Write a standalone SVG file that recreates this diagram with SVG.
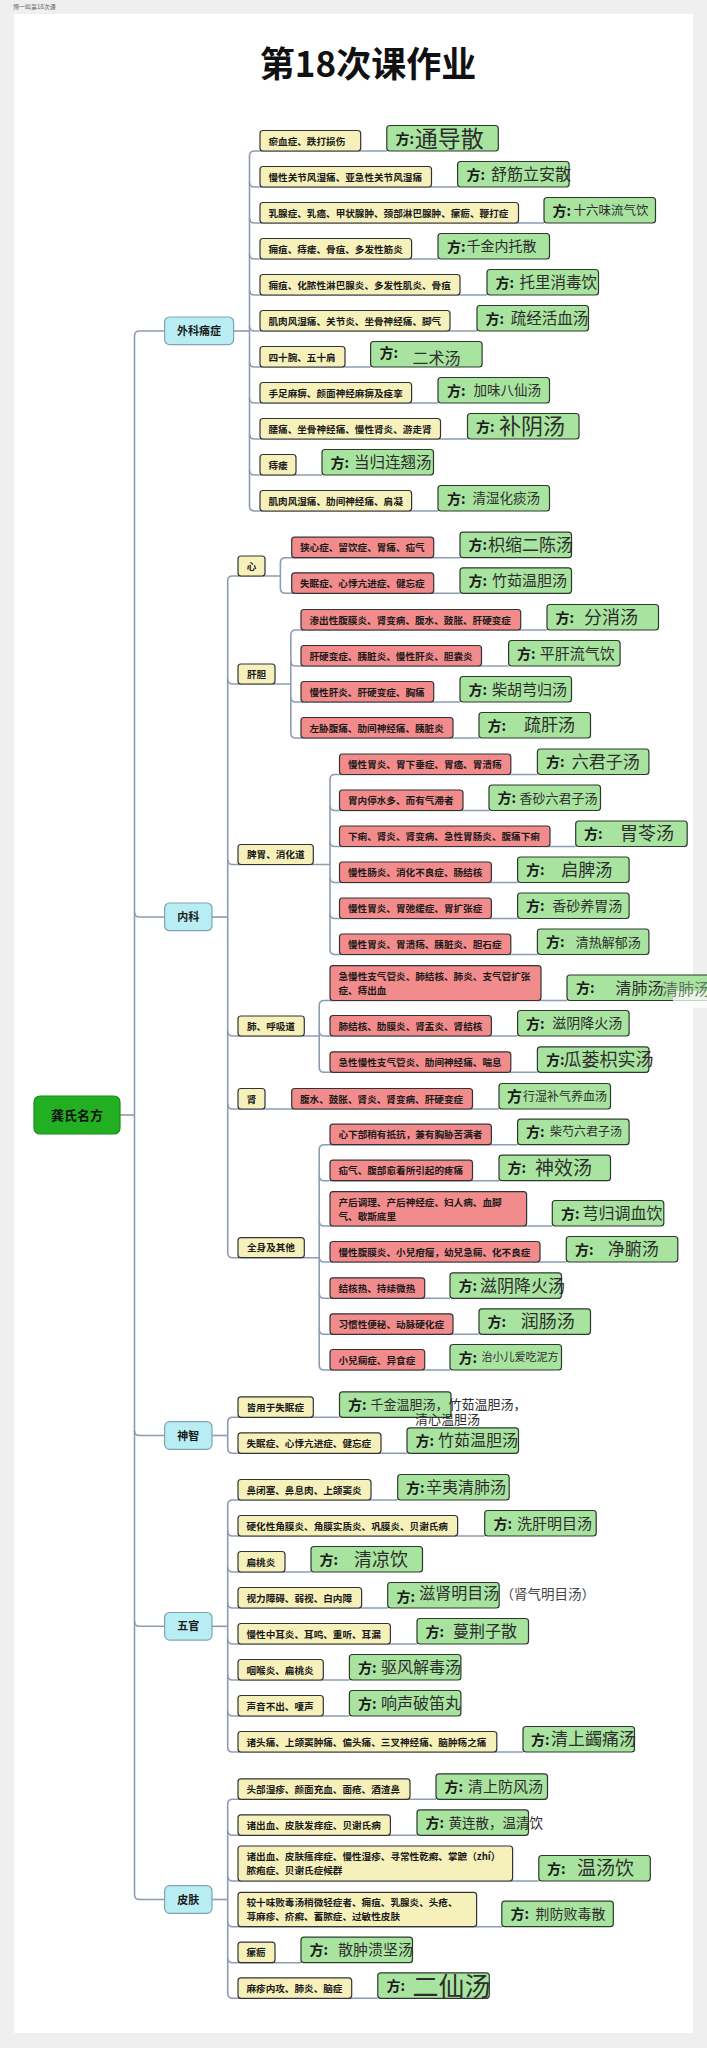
<svg xmlns="http://www.w3.org/2000/svg" width="707" height="2048" viewBox="0 0 707 2048">
<style>
text{font-family:"Noto Sans CJK SC","Noto Sans",sans-serif;}
.c path{fill:none;stroke:#8d9cb3;stroke-width:1.6;}
.y{fill:#f6f1bb;stroke:#333;stroke-width:1.2;}
.r{fill:#f28c8c;stroke:#333;stroke-width:1.2;}
.g{fill:#a8e4a0;stroke:#2c3a2c;stroke-width:1.2;}
.l1{fill:#b8eef3;stroke:#7fa3b5;stroke-width:1.2;}
.root{fill:#22b022;stroke:#1a8a1a;stroke-width:1.2;}
.t{font-size:9.6px;font-weight:bold;fill:#1a1a1a;}
.tm{font-size:9.6px;font-weight:bold;fill:#1a1a1a;text-anchor:middle;}
.f{font-size:14px;font-weight:bold;fill:#1a1a1a;}
.n{fill:#2e2e2e;}
.lt{font-size:11px;font-weight:bold;fill:#1a1a1a;text-anchor:middle;}
.o{fill:#444;}
</style>
<rect x="0" y="0" width="707" height="2048" fill="#efefef"/>
<rect x="14" y="14" width="679" height="2019" fill="#ffffff"/>
<text x="13" y="9" style="font-size:6px;fill:#666">博一鸣第18次课</text>
<text x="368" y="77" style="font-size:35px;font-weight:bold;fill:#111;text-anchor:middle">第18次课作业</text>

<g id="connectors" class="c">
<path d="M120,1115 H134.5"/>
<path d="M164.6,331 H139.5 Q134.5,331 134.5,336 V1894.5 Q134.5,1899.5 139.5,1899.5 H164.6"/>
<path d="M134.5,912 Q134.5,917 139.5,917 H164.6"/>
<path d="M134.5,1430.5 Q134.5,1435.5 139.5,1435.5 H164.6"/>
<path d="M134.5,1621.3 Q134.5,1626.3 139.5,1626.3 H164.6"/>
<path d="M233.5,331 H249.5"/>
<path d="M386.8,151 H254.5 Q249.5,151 249.5,156 V506 Q249.5,511 254.5,511 H438"/>
<path d="M249.5,182 Q249.5,187 254.5,187 H457.6"/>
<path d="M249.5,218 Q249.5,223 254.5,223 H544"/>
<path d="M249.5,254 Q249.5,259 254.5,259 H438"/>
<path d="M249.5,290 Q249.5,295 254.5,295 H487"/>
<path d="M249.5,326 Q249.5,331 254.5,331 H477"/>
<path d="M249.5,362 Q249.5,367 254.5,367 H370.6"/>
<path d="M249.5,398 Q249.5,403 254.5,403 H438"/>
<path d="M249.5,434 Q249.5,439 254.5,439 H467.5"/>
<path d="M249.5,470 Q249.5,475 254.5,475 H322"/>
<path d="M212,917 H227.7"/>
<path d="M280.4,576 H232.7 Q227.7,576 227.7,581 V1252.7 Q227.7,1257.7 232.7,1257.7 H319.2"/>
<path d="M227.7,679 Q227.7,684 232.7,684 H290.8"/>
<path d="M227.7,859.5 Q227.7,864.5 232.7,864.5 H330"/>
<path d="M227.7,1031 Q227.7,1036 232.7,1036 H319.2"/>
<path d="M227.7,1104 Q227.7,1109 232.7,1109 H499"/>
<path d="M460,557.7 H285.4 Q280.4,557.7 280.4,562.7 V588.3 Q280.4,593.3 285.4,593.3 H460"/>
<path d="M547,630 H295.8 Q290.8,630 290.8,635 V733 Q290.8,738 295.8,738 H479"/>
<path d="M290.8,661 Q290.8,666 295.8,666 H508.6"/>
<path d="M290.8,697 Q290.8,702 295.8,702 H460"/>
<path d="M537.4,774.5 H335 Q330,774.5 330,779.5 V949.5 Q330,954.5 335,954.5 H537.4"/>
<path d="M330,805.5 Q330,810.5 335,810.5 H489"/>
<path d="M330,841.5 Q330,846.5 335,846.5 H575.7"/>
<path d="M330,877.5 Q330,882.5 335,882.5 H517.6"/>
<path d="M330,913.5 Q330,918.5 335,918.5 H517.6"/>
<path d="M567,1000.5 H324.2 Q319.2,1000.5 319.2,1005.5 V1067.3 Q319.2,1072.3 324.2,1072.3 H537.4"/>
<path d="M319.2,1031 Q319.2,1036 324.2,1036 H517.6"/>
<path d="M517.6,1144.7 H324.2 Q319.2,1144.7 319.2,1149.7 V1365 Q319.2,1370 324.2,1370 H450"/>
<path d="M319.2,1175.7 Q319.2,1180.7 324.2,1180.7 H499"/>
<path d="M319.2,1221 Q319.2,1226 324.2,1226 H552.3"/>
<path d="M319.2,1257 Q319.2,1262 324.2,1262 H566.3"/>
<path d="M319.2,1293.3 Q319.2,1298.3 324.2,1298.3 H450"/>
<path d="M319.2,1329.3 Q319.2,1334.3 324.2,1334.3 H479"/>
<path d="M212,1435.5 H227.7"/>
<path d="M339.5,1417.3 H232.7 Q227.7,1417.3 227.7,1422.3 V1448.3 Q227.7,1453.3 232.7,1453.3 H407"/>
<path d="M212,1626.3 H227.7"/>
<path d="M397.7,1500 H232.7 Q227.7,1500 227.7,1505 V1747 Q227.7,1752 232.7,1752 H523"/>
<path d="M227.7,1531 Q227.7,1536 232.7,1536 H484.7"/>
<path d="M227.7,1567 Q227.7,1572 232.7,1572 H311"/>
<path d="M227.7,1603 Q227.7,1608 232.7,1608 H387.7"/>
<path d="M227.7,1639 Q227.7,1644 232.7,1644 H417"/>
<path d="M227.7,1675 Q227.7,1680 232.7,1680 H349.4"/>
<path d="M227.7,1711 Q227.7,1716 232.7,1716 H349.4"/>
<path d="M212,1899.5 H227.7"/>
<path d="M436,1799.3 H232.7 Q227.7,1799.3 227.7,1804.3 V1993.3 Q227.7,1998.3 232.7,1998.3 H377.8"/>
<path d="M227.7,1830.3 Q227.7,1835.3 232.7,1835.3 H417"/>
<path d="M227.7,1876 Q227.7,1881 232.7,1881 H538.8"/>
<path d="M227.7,1921.7 Q227.7,1926.7 232.7,1926.7 H501.8"/>
<path d="M227.7,1957.7 Q227.7,1962.7 232.7,1962.7 H301"/>
</g>

<g id="root"><rect class="root" x="34" y="1096" width="86" height="38" rx="6"/><text x="77" y="1119.5" style="font-size:13px;font-weight:bold;fill:#111;text-anchor:middle">龚氏名方</text></g>

<g id="l1-waike"><rect class="l1" x="164.6" y="317" width="69" height="27.6" rx="5"/><text class="lt" x="199" y="334.8">外科痛症</text></g>
<g id="l1-neike"><rect class="l1" x="164.6" y="903" width="47.4" height="27.7" rx="5"/><text class="lt" x="188.3" y="921">内科</text></g>
<g id="l1-shenzhi"><rect class="l1" x="164.6" y="1421.7" width="47.4" height="27.6" rx="5"/><text class="lt" x="188.3" y="1439.5">神智</text></g>
<g id="l1-wuguan"><rect class="l1" x="164.6" y="1612.5" width="47.4" height="27.6" rx="5"/><text class="lt" x="188.3" y="1630.3">五官</text></g>
<g id="l1-pifu"><rect class="l1" x="164.6" y="1885.7" width="47.4" height="27.6" rx="5"/><text class="lt" x="188.3" y="1903.5">皮肤</text></g>

<g id="wk1"><rect class="y" x="260" y="130.5" width="100.7" height="20.5" rx="3"/><text class="t" x="268.5" y="144.5">瘀血症、跌打损伤</text></g>
<g id="wk1f"><rect class="g" x="386.8" y="125.5" width="111.5" height="25.5" rx="3"/><text class="f" x="395.5" y="143.5">方:</text><text class="n" x="414.8" y="146.5" style="font-size:23px">通导散</text></g>
<g id="wk2"><rect class="y" x="260" y="166.5" width="171.5" height="20.5" rx="3"/><text class="t" x="268.5" y="180.5">慢性关节风湿痛、亚急性关节风湿痛</text></g>
<g id="wk2f"><rect class="g" x="457.6" y="161.5" width="111.5" height="25.5" rx="3"/><text class="f" x="466.5" y="179.5">方:</text><text class="n" x="491" y="180" style="font-size:16px">舒筋立安散</text></g>
<g id="wk3"><rect class="y" x="260" y="202.5" width="258.5" height="20.5" rx="3"/><text class="t" x="268.5" y="216.5">乳腺症、乳癌、甲状腺肿、颈部淋巴腺肿、瘰疬、鞭打症</text></g>
<g id="wk3f"><rect class="g" x="544" y="197.5" width="111.5" height="25.5" rx="3"/><text class="f" x="552.5" y="215.5">方:</text><text class="n" x="573.5" y="214.8" style="font-size:12.5px">十六味流气饮</text></g>
<g id="wk4"><rect class="y" x="260" y="238.5" width="151.6" height="20.5" rx="3"/><text class="t" x="268.5" y="252.5">痈疽、痔瘘、骨疽、多发性筋炎</text></g>
<g id="wk4f"><rect class="g" x="438" y="233.5" width="111.5" height="25.5" rx="3"/><text class="f" x="447" y="251.5">方:</text><text class="n" x="466.6" y="251.3" style="font-size:14px">千金内托散</text></g>
<g id="wk5"><rect class="y" x="260" y="274.5" width="200" height="20.5" rx="3"/><text class="t" x="268.5" y="288.5">痈疽、化脓性淋巴腺炎、多发性肌炎、骨疽</text></g>
<g id="wk5f"><rect class="g" x="487" y="269.5" width="111.5" height="25.5" rx="3"/><text class="f" x="495.5" y="287.5">方:</text><text class="n" x="519.4" y="287.9" style="font-size:15.5px">托里消毒饮</text></g>
<g id="wk6"><rect class="y" x="260" y="310.5" width="190" height="20.5" rx="3"/><text class="t" x="268.5" y="324.5">肌肉风湿痛、关节炎、坐骨神经痛、脚气</text></g>
<g id="wk6f"><rect class="g" x="477" y="305.5" width="111.5" height="25.5" rx="3"/><text class="f" x="485.5" y="323.5">方:</text><text class="n" x="510.8" y="323.9" style="font-size:15.5px">疏经活血汤</text></g>
<g id="wk7"><rect class="y" x="260" y="346.5" width="85" height="20.5" rx="3"/><text class="t" x="268.5" y="360.5">四十腕、五十肩</text></g>
<g id="wk7f"><rect class="g" x="370.6" y="341.5" width="111.5" height="25.5" rx="3"/><text class="f" x="379.5" y="357.5">方:</text><text class="n" x="412.5" y="364" style="font-size:16px">二术汤</text></g>
<g id="wk8"><rect class="y" x="260" y="382.5" width="151.6" height="20.5" rx="3"/><text class="t" x="268.5" y="396.5">手足麻痹、颜面神经麻痹及痉挛</text></g>
<g id="wk8f"><rect class="g" x="438" y="377.5" width="111.5" height="25.5" rx="3"/><text class="f" x="447" y="395.5">方:</text><text class="n" x="473.4" y="395.1" style="font-size:13.5px">加味八仙汤</text></g>
<g id="wk9"><rect class="y" x="260" y="418.5" width="180.5" height="20.5" rx="3"/><text class="t" x="268.5" y="432.5">腰痛、坐骨神经痛、慢性肾炎、游走肾</text></g>
<g id="wk9f"><rect class="g" x="467.5" y="413.5" width="111.5" height="25.5" rx="3"/><text class="f" x="476" y="431.5">方:</text><text class="n" x="499" y="434.2" style="font-size:22px">补阴汤</text></g>
<g id="wk10"><rect class="y" x="260" y="454.5" width="36" height="20.5" rx="3"/><text class="t" x="268.5" y="468.5">痔瘘</text></g>
<g id="wk10f"><rect class="g" x="322" y="449.5" width="111.5" height="25.5" rx="3"/><text class="f" x="330.5" y="467.5">方:</text><text class="n" x="354" y="467.9" style="font-size:15.5px">当归连翘汤</text></g>
<g id="wk11"><rect class="y" x="260" y="490.5" width="151.6" height="20.5" rx="3"/><text class="t" x="268.5" y="504.5">肌肉风湿痛、肋间神经痛、肩凝</text></g>
<g id="wk11f"><rect class="g" x="438" y="485.5" width="111.5" height="25.5" rx="3"/><text class="f" x="447" y="503.5">方:</text><text class="n" x="472.5" y="503.1" style="font-size:13.5px">清湿化痰汤</text></g>

<g id="nk-xin"><rect class="y" x="238" y="556" width="27" height="20" rx="3"/><text class="tm" x="251.5" y="569.5">心</text></g>
<g id="xin1"><rect class="r" x="291.7" y="537.2" width="142" height="20.5" rx="3"/><text class="t" x="300" y="551.2">狭心症、留饮症、胃痛、疝气</text></g>
<g id="xin1f"><rect class="g" x="460" y="532.2" width="111.5" height="25.5" rx="3"/><text class="f" x="468.5" y="550.2">方:</text><text class="n" x="488" y="551" style="font-size:17px">枳缩二陈汤</text></g>
<g id="xin2"><rect class="r" x="291.7" y="572.8" width="142" height="20.5" rx="3"/><text class="t" x="300" y="586.8">失眠症、心悸亢进症、健忘症</text></g>
<g id="xin2f"><rect class="g" x="460" y="567.8" width="111.5" height="25.5" rx="3"/><text class="f" x="468.5" y="585.8">方:</text><text class="n" x="492" y="586" style="font-size:15px">竹茹温胆汤</text></g>

<g id="nk-gandan"><rect class="y" x="238" y="664" width="37" height="20" rx="3"/><text class="tm" x="256.5" y="677.5">肝胆</text></g>
<g id="gd1"><rect class="r" x="301" y="609.5" width="219.7" height="20.5" rx="3"/><text class="t" x="309.5" y="623.5">渗出性腹膜炎、肾变病、腹水、鼓胀、肝硬变症</text></g>
<g id="gd1f"><rect class="g" x="547" y="604.5" width="111.5" height="25.5" rx="3"/><text class="f" x="555.5" y="622.5">方:</text><text class="n" x="583.9" y="623.8" style="font-size:18px">分消汤</text></g>
<g id="gd2"><rect class="r" x="301" y="645.5" width="180.5" height="20.5" rx="3"/><text class="t" x="309.5" y="659.5">肝硬变症、胰脏炎、慢性肝炎、胆囊炎</text></g>
<g id="gd2f"><rect class="g" x="508.6" y="640.5" width="111.5" height="25.5" rx="3"/><text class="f" x="517" y="658.5">方:</text><text class="n" x="539.7" y="658.7" style="font-size:15px">平肝流气饮</text></g>
<g id="gd3"><rect class="r" x="301" y="681.5" width="132.7" height="20.5" rx="3"/><text class="t" x="309.5" y="695.5">慢性肝炎、肝硬变症、胸痛</text></g>
<g id="gd3f"><rect class="g" x="460" y="676.5" width="111.5" height="25.5" rx="3"/><text class="f" x="468.5" y="694.5">方:</text><text class="n" x="492" y="694.7" style="font-size:15px">柴胡芎归汤</text></g>
<g id="gd4"><rect class="r" x="301" y="717.5" width="152" height="20.5" rx="3"/><text class="t" x="309.5" y="731.5">左胁腹痛、肋间神经痛、胰脏炎</text></g>
<g id="gd4f"><rect class="g" x="479" y="712.5" width="111.5" height="25.5" rx="3"/><text class="f" x="487.5" y="730.5">方:</text><text class="n" x="523.9" y="731.4" style="font-size:17px">疏肝汤</text></g>

<g id="nk-piwei"><rect class="y" x="238" y="844.5" width="75.3" height="20" rx="3"/><text class="t" x="247" y="858">脾胃、消化道</text></g>
<g id="pw1"><rect class="r" x="339.5" y="754" width="171.3" height="20.5" rx="3"/><text class="t" x="348" y="768">慢性胃炎、胃下垂症、胃癌、胃溃疡</text></g>
<g id="pw1f"><rect class="g" x="537.4" y="749" width="111.5" height="25.5" rx="3"/><text class="f" x="546" y="767">方:</text><text class="n" x="571.7" y="767.9" style="font-size:17px">六君子汤</text></g>
<g id="pw2"><rect class="r" x="339.5" y="790" width="123.5" height="20.5" rx="3"/><text class="t" x="348" y="804">胃内停水多、而有气滞者</text></g>
<g id="pw2f"><rect class="g" x="489" y="785" width="111.5" height="25.5" rx="3"/><text class="f" x="497.5" y="803">方:</text><text class="n" x="519.4" y="802.5" style="font-size:13px">香砂六君子汤</text></g>
<g id="pw3"><rect class="r" x="339.5" y="826" width="210.5" height="20.5" rx="3"/><text class="t" x="348" y="840">下痢、肾炎、肾变病、急性胃肠炎、腹痛下痢</text></g>
<g id="pw3f"><rect class="g" x="575.7" y="821" width="111.5" height="25.5" rx="3"/><text class="f" x="584" y="839">方:</text><text class="n" x="620" y="840.3" style="font-size:18px">胃苓汤</text></g>
<g id="pw4"><rect class="r" x="339.5" y="862" width="151.9" height="20.5" rx="3"/><text class="t" x="348" y="876">慢性肠炎、消化不良症、肠结核</text></g>
<g id="pw4f"><rect class="g" x="517.6" y="857" width="111.5" height="25.5" rx="3"/><text class="f" x="526" y="875">方:</text><text class="n" x="561.3" y="875.9" style="font-size:17px">启脾汤</text></g>
<g id="pw5"><rect class="r" x="339.5" y="898" width="151.9" height="20.5" rx="3"/><text class="t" x="348" y="912">慢性胃炎、胃弛缓症、胃扩张症</text></g>
<g id="pw5f"><rect class="g" x="517.6" y="893" width="111.5" height="25.5" rx="3"/><text class="f" x="526" y="911">方:</text><text class="n" x="552.3" y="910.8" style="font-size:14px">香砂养胃汤</text></g>
<g id="pw6"><rect class="r" x="339.5" y="934" width="171.3" height="20.5" rx="3"/><text class="t" x="348" y="948">慢性胃炎、胃溃疡、胰脏炎、胆石症</text></g>
<g id="pw6f"><rect class="g" x="537.4" y="929" width="111.5" height="25.5" rx="3"/><text class="f" x="546" y="947">方:</text><text class="n" x="575.7" y="946.5" style="font-size:13px">清热解郁汤</text></g>

<g id="nk-fei"><rect class="y" x="238" y="1016" width="66.3" height="20" rx="3"/><text class="t" x="247" y="1029.5">肺、呼吸道</text></g>
<g id="fei1"><rect class="r" x="330" y="965.7" width="211" height="34.8" rx="3"/><text class="t" x="338.5" y="979.5">急慢性支气管炎、肺结核、肺炎、支气管扩张</text><text class="t" x="338.5" y="993.5">症、痔出血</text></g>
<g id="fei1f"><rect class="g" x="567" y="975" width="150" height="25.5" rx="3"/><text class="f" x="576" y="993">方:</text><text class="n" x="615.4" y="993.5" style="font-size:16px">清肺汤</text><rect x="673" y="991" width="34" height="17" fill="#ffffff" opacity="0.75"/><text x="662" y="995" style="font-size:16px;fill:#555;opacity:0.8">清肺汤</text></g>
<g id="fei2"><rect class="r" x="330" y="1015.5" width="161.4" height="20.5" rx="3"/><text class="t" x="338.5" y="1029.5">肺结核、肋膜炎、肾盂炎、肾结核</text></g>
<g id="fei2f"><rect class="g" x="517.6" y="1010.5" width="111.5" height="25.5" rx="3"/><text class="f" x="526" y="1028.5">方:</text><text class="n" x="552.3" y="1028.3" style="font-size:14px">滋阴降火汤</text></g>
<g id="fei3"><rect class="r" x="330" y="1051.8" width="180.8" height="20.5" rx="3"/><text class="t" x="338.5" y="1065.8">急性慢性支气管炎、肋间神经痛、喘息</text></g>
<g id="fei3f"><rect class="g" x="537.4" y="1046.8" width="111.5" height="25.5" rx="3"/><text class="f" x="546" y="1064.8">方:</text><text class="n" x="563.6" y="1066" style="font-size:18px">瓜蒌枳实汤</text></g>

<g id="nk-shen"><rect class="y" x="238" y="1088.5" width="27" height="20.5" rx="3"/><text class="tm" x="251.5" y="1102.5">肾</text></g>
<g id="shen1"><rect class="r" x="291.7" y="1088.5" width="180.8" height="20.5" rx="3"/><text class="t" x="300" y="1102.5">腹水、鼓胀、肾炎、肾变病、肝硬变症</text></g>
<g id="shen1f"><rect class="g" x="499" y="1083.5" width="111.5" height="25.5" rx="3"/><text x="507" y="1102" style="font-size:15px;font-weight:bold;fill:#1a1a1a">方</text><text class="n" x="523" y="1101" style="font-size:12px">行湿补气养血汤</text></g>

<g id="nk-quanshen"><rect class="y" x="238" y="1237.7" width="66.3" height="20" rx="3"/><text class="t" x="247" y="1251.2">全身及其他</text></g>
<g id="qs1"><rect class="r" x="330" y="1124.2" width="161.4" height="20.5" rx="3"/><text class="t" x="338.5" y="1138.2">心下部稍有抵抗，兼有胸胁苦满者</text></g>
<g id="qs1f"><rect class="g" x="517.6" y="1119.2" width="111.5" height="25.5" rx="3"/><text class="f" x="526" y="1137.2">方:</text><text class="n" x="550" y="1136.3" style="font-size:12px">柴芍六君子汤</text></g>
<g id="qs2"><rect class="r" x="330" y="1160.2" width="142.5" height="20.5" rx="3"/><text class="t" x="338.5" y="1174.2">疝气、腹部愈着所引起的疼痛</text></g>
<g id="qs2f"><rect class="g" x="499" y="1155.2" width="111.5" height="25.5" rx="3"/><text class="f" x="507.5" y="1173.2">方:</text><text class="n" x="535" y="1174.8" style="font-size:19px">神效汤</text></g>
<g id="qs3"><rect class="r" x="330" y="1191.7" width="196.6" height="34.3" rx="3"/><text class="t" x="338.5" y="1206">产后调理、产后神经症、妇人病、血脚</text><text class="t" x="338.5" y="1219.5">气、歇斯底里</text></g>
<g id="qs3f"><rect class="g" x="552.3" y="1200.5" width="111.5" height="25.5" rx="3"/><text class="f" x="561" y="1218.5">方:</text><text class="n" x="582.5" y="1219" style="font-size:16px">芎归调血饮</text></g>
<g id="qs4"><rect class="r" x="330" y="1241.5" width="210" height="20.5" rx="3"/><text class="t" x="338.5" y="1255.5">慢性腹膜炎、小兒疳瘤，幼兒急痫、化不良症</text></g>
<g id="qs4f"><rect class="g" x="566.3" y="1236.5" width="111.5" height="25.5" rx="3"/><text class="f" x="575" y="1254.5">方:</text><text class="n" x="607.8" y="1255.4" style="font-size:17px">净腑汤</text></g>
<g id="qs5"><rect class="r" x="330" y="1277.8" width="94.7" height="20.5" rx="3"/><text class="t" x="338.5" y="1291.8">结核热、持续微热</text></g>
<g id="qs5f"><rect class="g" x="450" y="1272.8" width="111.5" height="25.5" rx="3"/><text class="f" x="458.5" y="1290.8">方:</text><text class="n" x="480" y="1291.7" style="font-size:17px">滋阴降火汤</text></g>
<g id="qs6"><rect class="r" x="330" y="1313.8" width="123" height="20.5" rx="3"/><text class="t" x="338.5" y="1327.8">习惯性便秘、动脉硬化症</text></g>
<g id="qs6f"><rect class="g" x="479" y="1308.8" width="111.5" height="25.5" rx="3"/><text class="f" x="487.5" y="1326.8">方:</text><text class="n" x="520.7" y="1328" style="font-size:18px">润肠汤</text></g>
<g id="qs7"><rect class="r" x="330" y="1349.5" width="94.7" height="20.5" rx="3"/><text class="t" x="338.5" y="1363.5">小兒痫症、异食症</text></g>
<g id="qs7f"><rect class="g" x="450" y="1344.5" width="111.5" height="25.5" rx="3"/><text class="f" x="458.5" y="1362.5">方:</text><text class="n" x="481.5" y="1361.3" style="font-size:11px">治小儿爱吃泥方</text></g>

<g id="sz1"><rect class="y" x="238" y="1396.8" width="75.3" height="20.5" rx="3"/><text class="t" x="246.5" y="1410.8">皆用于失眠症</text></g>
<g id="sz1f"><rect class="g" x="339.5" y="1391.8" width="111.5" height="25.5" rx="3"/><text class="f" x="348" y="1409.8">方:</text><text class="n" x="370.6" y="1409" style="font-size:13px">千金温胆汤，竹茹温胆汤，</text><text class="n" x="415" y="1424" style="font-size:13px">清心温胆汤</text></g>
<g id="sz2"><rect class="y" x="238" y="1432.8" width="143" height="20.5" rx="3"/><text class="t" x="246.5" y="1446.8">失眠症、心悸亢进症、健忘症</text></g>
<g id="sz2f"><rect class="g" x="407" y="1427.8" width="111.5" height="25.5" rx="3"/><text class="f" x="415.5" y="1445.8">方:</text><text class="n" x="438" y="1446.4" style="font-size:16px">竹茹温胆汤</text></g>

<g id="wg1"><rect class="y" x="238" y="1479.5" width="133" height="20.5" rx="3"/><text class="t" x="246.5" y="1493.5">鼻闭塞、鼻息肉、上颌窦炎</text></g>
<g id="wg1f"><rect class="g" x="397.7" y="1474.5" width="111.5" height="25.5" rx="3"/><text class="f" x="406" y="1492.5">方:</text><text class="n" x="426" y="1493" style="font-size:16px">辛夷清肺汤</text></g>
<g id="wg2"><rect class="y" x="238" y="1515.5" width="219.6" height="20.5" rx="3"/><text class="t" x="246.5" y="1529.5">硬化性角膜炎、角膜实质炎、巩膜炎、贝谢氏病</text></g>
<g id="wg2f"><rect class="g" x="484.7" y="1510.5" width="111.5" height="25.5" rx="3"/><text class="f" x="493.5" y="1528.5">方:</text><text class="n" x="517" y="1528.7" style="font-size:15px">洗肝明目汤</text></g>
<g id="wg3"><rect class="y" x="238" y="1551.5" width="47" height="20.5" rx="3"/><text class="t" x="246.5" y="1565.5">扁桃炎</text></g>
<g id="wg3f"><rect class="g" x="311" y="1546.5" width="111.5" height="25.5" rx="3"/><text class="f" x="319.5" y="1564.5">方:</text><text class="n" x="354" y="1565.8" style="font-size:18px">清凉饮</text></g>
<g id="wg4"><rect class="y" x="238" y="1587.5" width="123.6" height="20.5" rx="3"/><text class="t" x="246.5" y="1601.5">视力障碍、弱视、白内障</text></g>
<g id="wg4f"><rect class="g" x="387.7" y="1582.5" width="111.5" height="25.5" rx="3"/><text class="f" x="396.5" y="1601.5">方:</text><text class="n" x="419.3" y="1598.5" style="font-size:16px">滋肾明目汤</text><text class="o" x="500.5" y="1599" style="font-size:13.5px">（肾气明目汤）</text></g>
<g id="wg5"><rect class="y" x="238" y="1623.5" width="152.4" height="20.5" rx="3"/><text class="t" x="246.5" y="1637.5">慢性中耳炎、耳鸣、重听、耳漏</text></g>
<g id="wg5f"><rect class="g" x="417" y="1618.5" width="111.5" height="25.5" rx="3"/><text class="f" x="425.5" y="1636.5">方:</text><text class="n" x="453" y="1637" style="font-size:16px">蔓荆子散</text></g>
<g id="wg6"><rect class="y" x="238" y="1659.5" width="85.3" height="20.5" rx="3"/><text class="t" x="246.5" y="1673.5">咽喉炎、扁桃炎</text></g>
<g id="wg6f"><rect class="g" x="349.4" y="1654.5" width="111.5" height="25.5" rx="3"/><text class="f" x="358" y="1672.5">方:</text><text class="n" x="381" y="1673" style="font-size:16px">驱风解毒汤</text></g>
<g id="wg7"><rect class="y" x="238" y="1695.5" width="85.3" height="20.5" rx="3"/><text class="t" x="246.5" y="1709.5">声音不出、嗄声</text></g>
<g id="wg7f"><rect class="g" x="349.4" y="1690.5" width="111.5" height="25.5" rx="3"/><text class="f" x="358" y="1708.5">方:</text><text class="n" x="381" y="1709" style="font-size:16px">响声破笛丸</text></g>
<g id="wg8"><rect class="y" x="238" y="1731.5" width="258.8" height="20.5" rx="3"/><text class="t" x="246.5" y="1745.5">诸头痛、上颌窦肿痛、偏头痛、三叉神经痛、脑肿疡之痛</text></g>
<g id="wg8f"><rect class="g" x="523" y="1726.5" width="111.5" height="25.5" rx="3"/><text class="f" x="531" y="1744.5">方:</text><text class="n" x="551" y="1745.4" style="font-size:17px">清上蠲痛汤</text></g>

<g id="pf1"><rect class="y" x="238" y="1778.8" width="172" height="20.5" rx="3"/><text class="t" x="246.5" y="1792.8">头部湿疹、颜面充血、面疮、酒渣鼻</text></g>
<g id="pf1f"><rect class="g" x="436" y="1773.8" width="111.5" height="25.5" rx="3"/><text class="f" x="444.5" y="1791.8">方:</text><text class="n" x="468" y="1792" style="font-size:15px">清上防风汤</text></g>
<g id="pf2"><rect class="y" x="238" y="1814.8" width="152.4" height="20.5" rx="3"/><text class="t" x="246.5" y="1828.8">诸出血、皮肤发痒症、贝谢氏病</text></g>
<g id="pf2f"><rect class="g" x="417" y="1809.8" width="111.5" height="25.5" rx="3"/><text class="f" x="425.5" y="1827.8">方:</text><text class="n" x="448.6" y="1827.5" style="font-size:13.5px">黄连散，温清饮</text></g>
<g id="pf3"><rect class="y" x="238" y="1846" width="274.6" height="35" rx="3"/><text class="t" x="246.5" y="1859.5">诸出血、皮肤瘙痒症、慢性湿疹、寻常性乾癣、掌蹠（zhí）</text><text class="t" x="246.5" y="1874">脓疱症、贝谢氏症候群</text></g>
<g id="pf3f"><rect class="g" x="538.8" y="1855.5" width="111.5" height="25.5" rx="3"/><text class="f" x="547" y="1873.5">方:</text><text class="n" x="577" y="1875" style="font-size:19px">温汤饮</text></g>
<g id="pf4"><rect class="y" x="238" y="1892.3" width="238.6" height="34.4" rx="3"/><text class="t" x="246.5" y="1906">较十味败毒汤稍微轻症者、痈疽、乳腺炎、头疮、</text><text class="t" x="246.5" y="1919.5">荨麻疹、疥癣、蓄脓症、过敏性皮肤</text></g>
<g id="pf4f"><rect class="g" x="501.8" y="1901.2" width="111.5" height="25.5" rx="3"/><text class="f" x="510.5" y="1919.2">方:</text><text class="n" x="535.6" y="1919" style="font-size:14px">荆防败毒散</text></g>
<g id="pf5"><rect class="y" x="238" y="1942.2" width="37" height="20.5" rx="3"/><text class="t" x="246.5" y="1956.2">瘰疬</text></g>
<g id="pf5f"><rect class="g" x="301" y="1937.2" width="111.5" height="25.5" rx="3"/><text class="f" x="309.5" y="1955.2">方:</text><text class="n" x="338" y="1955.4" style="font-size:15px">散肿溃坚汤</text></g>
<g id="pf6"><rect class="y" x="238" y="1977.8" width="113.7" height="20.5" rx="3"/><text class="t" x="246.5" y="1991.8">麻疹内攻、肺炎、脑症</text></g>
<g id="pf6f"><rect class="g" x="377.8" y="1972.8" width="111.5" height="25.5" rx="3"/><text class="f" x="386.5" y="1990.8">方:</text><text class="n" x="412.5" y="1996" style="font-size:26px">二仙汤</text></g>
</svg>
